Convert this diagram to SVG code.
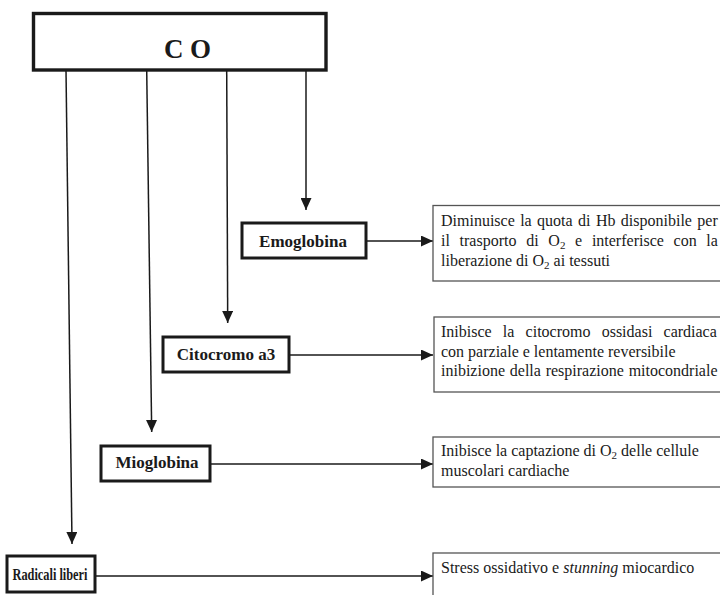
<svg xmlns="http://www.w3.org/2000/svg" width="720" height="595" viewBox="0 0 720 595">
<style>
.node{fill:#fff;stroke:#1a1a1a;stroke-width:3}
.main{fill:#fff;stroke:#1a1a1a;stroke-width:3.4}
.desc{fill:#fff;stroke:#555;stroke-width:1.3}
.lbl{font-family:"Liberation Serif","Times New Roman",serif;font-weight:bold;font-size:17px;fill:#1a1a1a;text-anchor:middle}
.big{font-family:"Liberation Serif","Times New Roman",serif;font-weight:bold;font-size:27px;fill:#1a1a1a;text-anchor:middle}
.txt{font-family:"Liberation Serif","Times New Roman",serif;font-size:16px;fill:#1a1a1a}
.sub{font-size:11px}
.con{stroke:#1a1a1a;stroke-width:1.5;fill:none;marker-end:url(#ah)}
</style>
<defs>
<marker id="ah" viewBox="0 0 12 11" refX="12" refY="5.5" markerWidth="12" markerHeight="11" markerUnits="userSpaceOnUse" orient="auto">
<path d="M0,0 L12,5.5 L0,11 Z" fill="#1a1a1a"/>
</marker>
</defs>
<rect width="720" height="595" fill="#fff"/>
<g id="connectors">
<line class="con" x1="306" y1="70" x2="306" y2="210"/>
<line class="con" x1="226.7" y1="70" x2="227.7" y2="323"/>
<line class="con" x1="146.7" y1="70" x2="151.7" y2="432"/>
<line class="con" x1="66" y1="70" x2="72" y2="544"/>
<line class="con" x1="366" y1="241" x2="433" y2="241"/>
<line class="con" x1="289" y1="355" x2="433" y2="355"/>
<line class="con" x1="210" y1="464" x2="433" y2="464"/>
<line class="con" x1="95" y1="576" x2="433" y2="576"/>
</g>
<g id="co">
<rect class="main" x="33.5" y="13.5" width="292.5" height="56.5"/>
<text class="big" x="187.5" y="58">C O</text>
</g>
<g id="emoglobina">
<rect class="node" x="242" y="223" width="124" height="35"/>
<text class="lbl" x="303" y="247">Emoglobina</text>
</g>
<g id="citocromo">
<rect class="node" x="163" y="337" width="126" height="35"/>
<text class="lbl" x="226" y="360">Citocromo a3</text>
</g>
<g id="mioglobina">
<rect class="node" x="101" y="446" width="109" height="35"/>
<text class="lbl" x="157" y="468">Mioglobina</text>
</g>
<g id="radicali">
<rect class="node" x="7" y="556" width="88" height="36"/>
<text class="lbl" x="50" y="580" font-size="16" textLength="75" lengthAdjust="spacingAndGlyphs">Radicali liberi</text>
</g>
<g id="desc-emoglobina">
<rect class="desc" x="433" y="205.5" width="300" height="75.5"/>
<text class="txt" x="441" y="226" word-spacing="1.4">Diminuisce la quota di Hb disponibile per</text>
<text class="txt" x="441" y="246" word-spacing="5.7">il trasporto di O<tspan class="sub" dy="3">2</tspan><tspan dy="-3"> e interferisce con la</tspan></text>
<text class="txt" x="441" y="266">liberazione di O<tspan class="sub" dy="3">2</tspan><tspan dy="-3"> ai tessuti</tspan></text>
</g>
<g id="desc-citocromo">
<rect class="desc" x="434" y="317" width="300" height="75"/>
<text class="txt" x="441" y="337" word-spacing="7.2">Inibisce la citocromo ossidasi cardiaca</text>
<text class="txt" x="441" y="357">con parziale e lentamente reversibile</text>
<text class="txt" x="441" y="376" word-spacing="0.8">inibizione della respirazione mitocondriale</text>
</g>
<g id="desc-mioglobina">
<rect class="desc" x="433" y="437" width="300" height="50"/>
<text class="txt" x="441" y="456">Inibisce la captazione di O<tspan class="sub" dy="3">2</tspan><tspan dy="-3"> delle cellule</tspan></text>
<text class="txt" x="441" y="476">muscolari cardiache</text>
</g>
<g id="desc-radicali">
<rect class="desc" x="433" y="553" width="300" height="60"/>
<text class="txt" x="441" y="573">Stress ossidativo e <tspan font-style="italic">stunning</tspan> miocardico</text>
</g>
</svg>
